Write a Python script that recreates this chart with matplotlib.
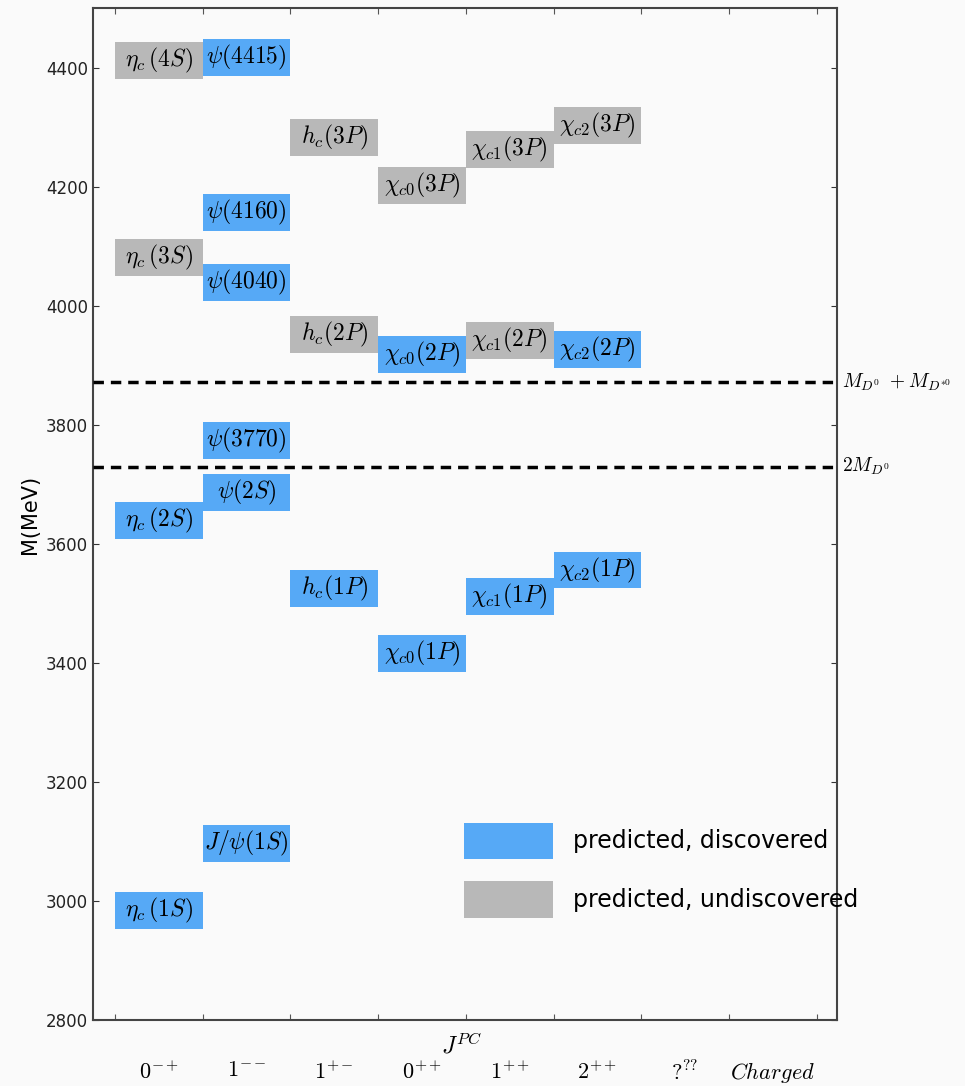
import numpy as np
import matplotlib
matplotlib.use("Agg")
import matplotlib.pyplot as plt
from matplotlib.patches import Patch

plt.rcParams['mathtext.fontset'] = 'cm'

# charmonium states: label, J^PC column, mass (MeV), discovered?
labels = [r'$\eta_c\,(1S)$', r'$J/\psi(1S)$', r'$\eta_c\,(2S)$', r'$\psi(2S)$',
          r'$\psi(3770)$', r'$h_c(1P)$', r'$\chi_{c0}(1P)$', r'$\chi_{c1}(1P)$',
          r'$\chi_{c2}(1P)$', r'$\chi_{c0}(2P)$', r'$\chi_{c2}(2P)$',
          r'$\psi(4040)$', r'$\psi(4160)$', r'$\psi(4415)$',
          r'$h_c(2P)$', r'$\chi_{c1}(2P)$', r'$\eta_c\,(3S)$',
          r'$\chi_{c0}(3P)$', r'$\chi_{c1}(3P)$', r'$h_c(3P)$',
          r'$\chi_{c2}(3P)$', r'$\eta_c\,(4S)$']
columns = [0, 1, 0, 1, 1, 2, 3, 4, 5, 3, 5, 1, 1, 1, 2, 4, 0, 3, 4, 2, 5, 0]
masses = [2984, 3097, 3639, 3686, 3773, 3525, 3415, 3511, 3556, 3918, 3927,
          4039, 4157, 4417, 3951, 3941, 4081, 4202, 4262, 4282, 4302, 4412]
discovered = [1, 1, 1, 1, 1, 1, 1, 1, 1, 1, 1, 1, 1, 1,
              0, 0, 0, 0, 0, 0, 0, 0]

thresholds = [3871.7, 3729.7]
threshold_labels = [r'$M_{D^0}\ +M_{D^{*0}}$', r'$2M_{D^0}$']

jpc_labels = [r'$0^{-+}$', r'$1^{--}$', r'$1^{+-}$', r'$0^{++}$', r'$1^{++}$',
              r'$2^{++}$', r'$?^{??}$', r'$Charged$']

blue = '#56a9f6'
grey = '#b8b8b8'
bg = '#fafafa'

fig = plt.figure(figsize=(9.65, 10.86), dpi=100, facecolor=bg)
ax = fig.add_axes([0.0964, 0.0608, 0.7708, 0.9318], facecolor=bg)

box_h = 62
for lab, col, m, d in zip(labels, columns, masses, discovered):
    c = blue if d else grey
    ax.bar(col, box_h, width=1, bottom=m - box_h / 2, align='edge', color=c,
           edgecolor='none', zorder=2)
    ax.text(col + 0.5, m, lab, ha='center', va='center', fontsize=17, zorder=3)

for t, tl in zip(thresholds, threshold_labels):
    ax.axhline(t, color='black', lw=2.5, ls=(0, (3, 2)), zorder=4)
    ax.text(8.29, t, tl, ha='left', va='center', fontsize=14, clip_on=False)

ax.set_xlim(-0.25, 8.23)
ax.set_ylim(2800, 4500)
ax.set_yticks(np.arange(2800, 4401, 200))
ax.set_xticks(np.arange(0, 9))
ax.set_xticklabels([])
ax.set_xticks(np.arange(0.5, 8), minor=True)
ax.set_xticklabels(jpc_labels, minor=True, fontsize=16)
ax.tick_params(axis='x', which='minor', length=0, pad=29)
ax.tick_params(which='major', direction='in', length=4, top=True, right=True,
               color='#555555')
ax.tick_params(axis='y', labelsize=12, colors='#333333', labelcolor='#222222')

for s in ax.spines.values():
    s.set_color('#444444')
    s.set_linewidth(1.5)

ax.set_xlabel(r'$J^{PC}$', fontsize=17)
ax.xaxis.label.set_va('center')
ax.xaxis.set_label_coords(0.495, -0.025)
ax.set_ylabel('M(MeV)', fontsize=15)

handles = [Patch(facecolor=blue, edgecolor='none'),
           Patch(facecolor=grey, edgecolor='none')]
ax.legend(handles, ['predicted, discovered', 'predicted, undiscovered'],
          loc='upper left', bbox_to_anchor=(0.4987, 0.195), borderaxespad=0,
          borderpad=0, frameon=False, fontsize=17, handlelength=3.77,
          handleheight=2.0, labelspacing=0.93, handletextpad=0.85)

fig.savefig('out.png', dpi=100, facecolor=bg)
